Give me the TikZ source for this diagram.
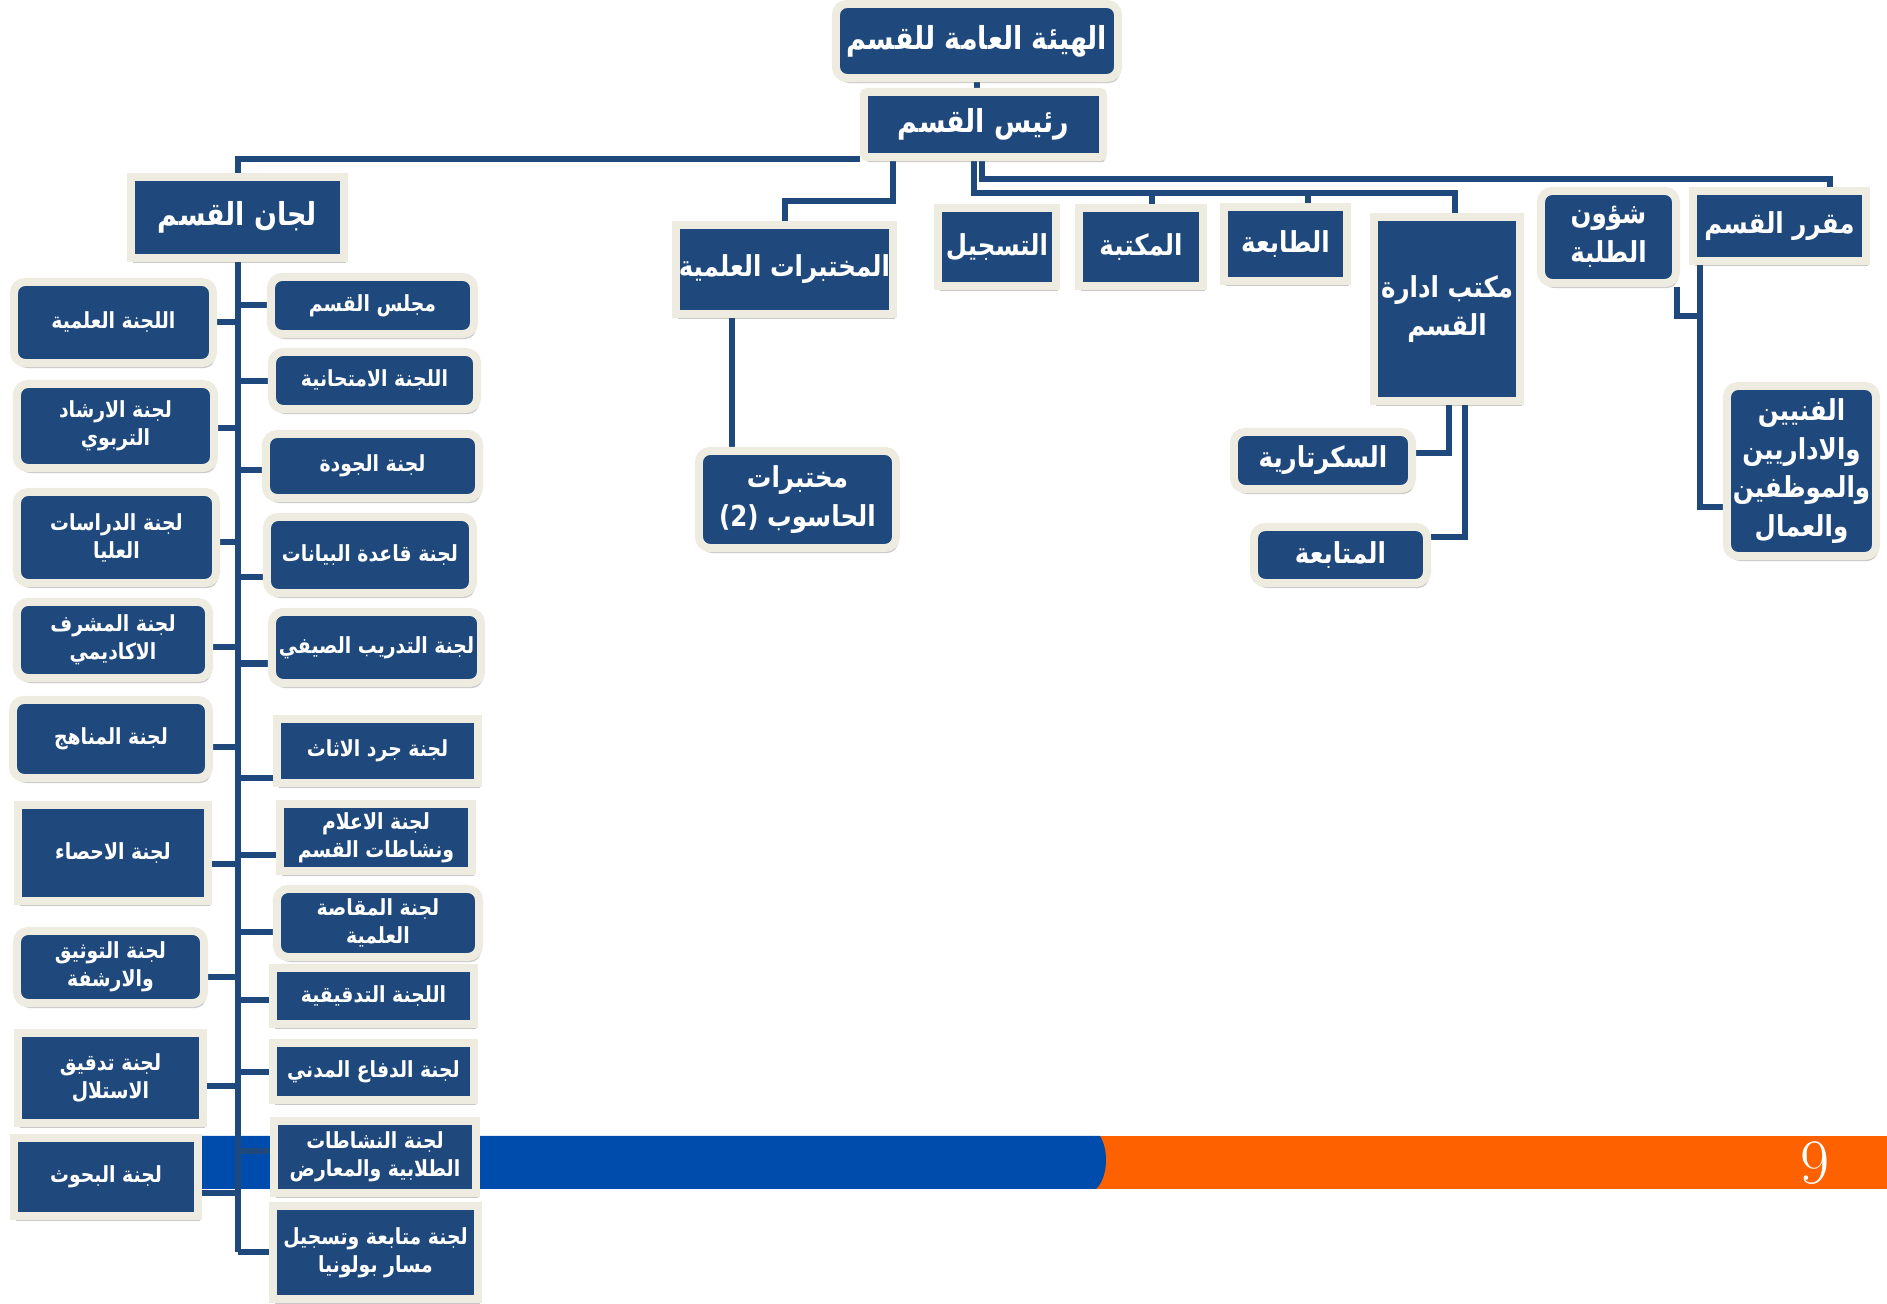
\documentclass[tikz,border=0pt]{standalone}
\usepackage{fontspec}
\usepackage{tikz}
\usetikzlibrary{shadows}
\TeXXeTstate=1
\newfontfamily\arfont[Script=Arabic,FakeStretch=0.85]{DejaVu Sans}
\definecolor{boxblue}{RGB}{31,73,125}
\definecolor{cream}{RGB}{238,236,225}
\definecolor{bandblue}{RGB}{0,76,173}
\definecolor{bandorange}{RGB}{253,97,0}
\newcommand{\artx}[1]{\beginR #1\endR}
\pgfdeclarelayer{background}
\pgfsetlayers{background,main}

\begin{document}
\begin{tikzpicture}[x=0.01cm,y=-0.01cm,
	box/.style={draw=cream, line width=0.8mm, fill=boxblue, text=white, align=center, inner sep=0pt,
		font=\arfont\bfseries\fontsize{6.3}{8}\selectfont,
		drop shadow={shadow xshift=0.02cm, shadow yshift=-0.05cm, opacity=0.3, fill=black!70}},
	rbox/.style={box, rounded corners=1.1mm},
	wh/.style 2 args={minimum width=#1cm, minimum height=#2cm},
	big/.style={font=\arfont\bfseries\fontsize{9}{11}\selectfont},
	mid/.style={font=\arfont\bfseries\fontsize{8.2}{11}\selectfont},
	link/.style={draw=boxblue, line width=0.6mm}]
	\useasboundingbox (0,0) rectangle (1887,1304);

	% band at the bottom
	\begin{pgfonlayer}{background}
		\fill[bandorange] (1090,1136) rectangle (1887,1189);
		\fill[bandblue] (30,1136) -- (1100,1136) .. controls (1109,1150) and (1108,1178) .. (1096,1189) -- (30,1189) -- cycle;
	\end{pgfonlayer}
	\node[text=white, font=\fontsize{18}{18}\selectfont] (pnum) at (1815,1163) {9};

	% head
	\node[rbox, big, wh={2.82}{0.74}] (hay) at (977,41) {\artx{الهيئة العامة للقسم}};
	\node[box, big, rounded corners=0.3mm, wh={2.39}{0.65}] (rais) at (983.5,124.5) {\artx{رئيس القسم}};
	\node[box, big, wh={2.13}{0.81}] (lijan) at (237.5,217.5) {\artx{لجان القسم}};

	% committees, left column
	\node[rbox, wh={1.99}{0.81}] (L1) at (113.5,322.5) {\artx{اللجنة العلمية}};
	\node[rbox, wh={1.97}{0.84}] (L2) at (115.5,426) {\artx{لجنة الارشاد}\\\artx{التربوي}};
	\node[rbox, wh={1.99}{0.91}] (L3) at (116.5,537.5) {\artx{لجنة الدراسات}\\\artx{العليا}};
	\node[rbox, wh={1.92}{0.76}] (L4) at (113,640) {\artx{لجنة المشرف}\\\artx{الاكاديمي}};
	\node[rbox, wh={1.96}{0.78}] (L5) at (111,739) {\artx{لجنة المناهج}};
	\node[box, wh={1.90}{0.96}] (L6) at (113,853) {\artx{لجنة الاحصاء}};
	\node[rbox, wh={1.87}{0.72}] (L7) at (110.5,967) {\artx{لجنة التوثيق}\\\artx{والارشفة}};
	\node[box, wh={1.85}{0.90}] (L8) at (110.5,1078) {\artx{لجنة تدقيق}\\\artx{الاستلال}};
	\node[box, wh={1.84}{0.78}] (L9) at (106,1177) {\artx{لجنة البحوث}};

	% committees, right column
	\node[rbox, wh={2.03}{0.57}] (R1) at (372.5,305.5) {\artx{مجلس القسم}};
	\node[rbox, wh={2.05}{0.57}] (R2) at (374.5,380.5) {\artx{اللجنة الامتحانية}};
	\node[rbox, wh={2.13}{0.64}] (R3) at (372.5,466) {\artx{لجنة الجودة}};
	\node[rbox, wh={2.06}{0.76}] (R4) at (370,555) {\artx{لجنة قاعدة البيانات}};
	\node[rbox, wh={2.09}{0.71}] (R5) at (376.5,647.5) {\artx{لجنة التدريب الصيفي}};
	\node[box, wh={2.01}{0.64}] (R6) at (377.5,751) {\artx{لجنة جرد الاثاث}};
	\node[box, wh={1.92}{0.67}] (R7) at (376,837.5) {\artx{لجنة الاعلام}\\\artx{ونشاطات القسم}};
	\node[rbox, wh={2.02}{0.68}] (R8) at (378,923) {\artx{لجنة المقاصة}\\\artx{العلمية}};
	\node[box, wh={2.01}{0.56}] (R9) at (373.5,996) {\artx{اللجنة التدقيقية}};
	\node[box, wh={2.01}{0.57}] (R10) at (373.5,1071.5) {\artx{لجنة الدفاع المدني}};
	\node[box, wh={2.02}{0.72}] (R11) at (375,1157) {\artx{لجنة النشاطات}\\\artx{الطلابية والمعارض}};
	\node[box, wh={2.05}{0.93}] (R12) at (375.5,1252.5) {\artx{لجنة متابعة وتسجيل}\\\artx{مسار بولونيا}};

	% labs
	\node[box, mid, wh={2.17}{0.89}] (M1) at (784.5,269.5) {\artx{المختبرات العلمية}};
	\node[rbox, mid, wh={1.97}{0.97}] (M2) at (797.5,499.5) {\artx{مختبرات}\\\artx{الحاسوب \beginL(2)\endL}};

	% office row
	\node[box, mid, wh={1.18}{0.78}] (T1) at (997,247) {\artx{التسجيل}};
	\node[box, mid, wh={1.24}{0.78}] (T2) at (1141,247) {\artx{المكتبة}};
	\node[box, mid, wh={1.23}{0.74}] (T3) at (1285.5,244) {\artx{الطابعة}};
	\node[box, mid, wh={1.46}{1.84}] (T4) at (1447,309) {\artx{مكتب ادارة}\\\artx{القسم}};
	\node[rbox, mid, wh={1.78}{0.57}] (S1) at (1323,460.5) {\artx{السكرتارية}};
	\node[rbox, mid, wh={1.73}{0.56}] (S2) at (1340.5,555) {\artx{المتابعة}};

	% far right
	\node[box, mid, wh={1.73}{0.70}] (F1) at (1779.5,226) {\artx{مقرر القسم}};
	\node[rbox, mid, wh={1.35}{0.92}] (F2) at (1608.5,237) {\artx{شؤون}\\\artx{الطلبة}};
	\node[rbox, mid, wh={1.49}{1.70}] (F3) at (1801.5,471) {\artx{الفنيين}\\\artx{والاداريين}\\\artx{والموظفين}\\\artx{والعمال}};

	% connectors
	\begin{pgfonlayer}{background}
		\draw[link] (hay.south) -- (hay.south |- rais.north);
		\draw[link] ([yshift=0.02cm]rais.south west) -| (lijan.north);
		\draw[link] (lijan.south) -- (lijan.south |- R12.west);
		\foreach \n/\d in {L1/0,L2/-0.02,L3/-0.05,L4/-0.07,L5/-0.08,L6/-0.11,L7/-0.10,L8/-0.08,L9/-0.16}
			\draw[link] ([yshift=\d cm]\n.east) -- ([yshift=\d cm]\n.east -| lijan.south);
		\foreach \n/\d in {R1/0,R2/-0.01,R3/-0.04,R4/-0.22,R5/-0.16,R6/-0.27,R7/-0.17,R8/-0.09,R9/-0.04,R10/-0.01,R11/0.06,R12/0}
			\draw[link] ([yshift=\d cm]\n.west) -- ([yshift=\d cm]\n.west -| lijan.south);
		\draw[link] ([xshift=-0.905cm]rais.south) |- ([yshift=0.2cm]M1.north) -- (M1.north);
		\draw[link] ([xshift=-0.525cm]M1.south) -- ([xshift=-0.525cm]M1.south |- M2.north);
		\draw[link] ([xshift=-0.095cm]rais.south) |- ([xshift=0.08cm,yshift=0.2cm]T4.north) -- ([xshift=0.08cm]T4.north);
		\draw[link] ([xshift=0.11cm]T2.north) -- ([xshift=0.11cm,yshift=0.1cm]T2.north);
		\draw[link] ([xshift=0.225cm]T3.north) -- ([xshift=0.225cm,yshift=0.09cm]T3.north);
		\draw[link] ([xshift=-0.015cm]rais.south) |- ([xshift=0.505cm,yshift=0.08cm]F1.north) -- ([xshift=0.505cm]F1.north);
		\draw[link] ([xshift=-0.795cm]F1.south) |- ([yshift=-0.36cm]F3.west);
		\draw[link] ([xshift=0.685cm]F2.south) |- ([xshift=-0.795cm,yshift=-0.51cm]F1.south);
		\draw[link] ([xshift=0.02cm]T4.south) |- ([yshift=0.075cm]S1.east);
		\draw[link] ([xshift=0.18cm]T4.south) |- ([yshift=0.18cm]S2.east);
	\end{pgfonlayer}
\end{tikzpicture}
\end{document}
